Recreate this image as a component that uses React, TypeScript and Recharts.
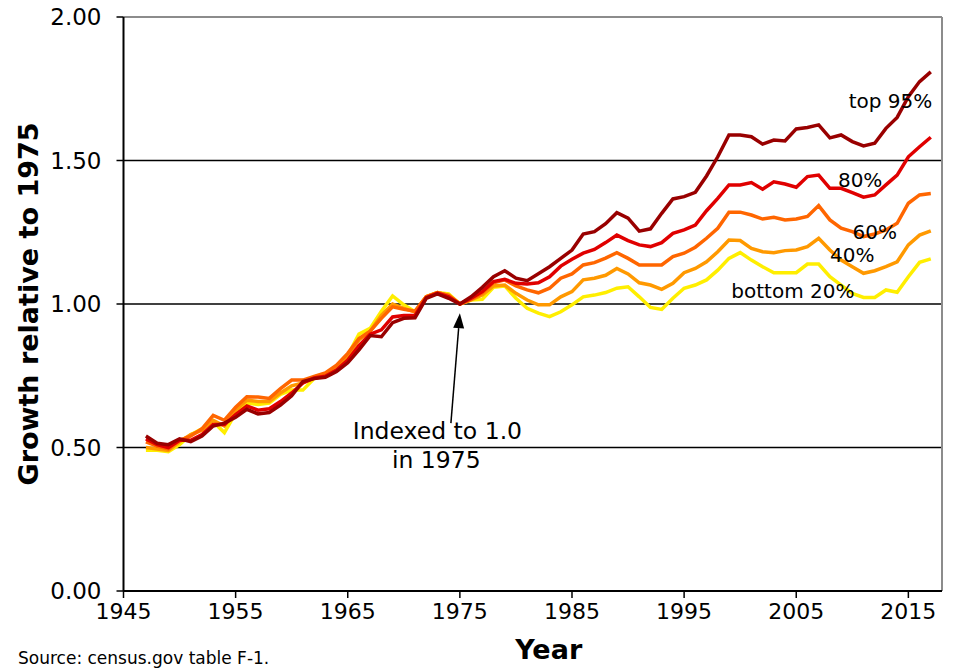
import React from 'react';
import { LineChart, Line, XAxis, YAxis, CartesianGrid, ReferenceLine, ReferenceDot } from 'recharts';

const FONT = '"DejaVu Sans", Verdana, sans-serif';

// years 1947 .. 2017
const years = Array.from({ length: 71 }, (_, i) => 1947 + i);

const top95 = [
  0.54, 0.515, 0.51, 0.53, 0.52, 0.54, 0.575, 0.585, 0.605, 0.633,
  0.617, 0.622, 0.648, 0.68, 0.73, 0.74, 0.745, 0.765, 0.795, 0.84,
  0.89, 0.886, 0.935, 0.95, 0.952, 1.02, 1.035, 1.02, 1.0, 1.025,
  1.058, 1.095, 1.116, 1.09, 1.081, 1.105, 1.13, 1.159, 1.188, 1.244,
  1.252, 1.28, 1.318, 1.299, 1.254, 1.262, 1.316, 1.366, 1.374, 1.389,
  1.446, 1.513, 1.589, 1.589, 1.583, 1.557, 1.571, 1.568, 1.61, 1.615,
  1.624, 1.579, 1.589, 1.566, 1.551, 1.56, 1.612, 1.65, 1.722, 1.775,
  1.809,
];
const p80 = [
  0.53, 0.51, 0.5, 0.525, 0.525, 0.545, 0.58, 0.58, 0.615, 0.645,
  0.63, 0.635, 0.66, 0.69, 0.725, 0.742, 0.748, 0.77, 0.805, 0.855,
  0.895, 0.91, 0.955, 0.96, 0.96, 1.022, 1.038, 1.025, 1.0, 1.02,
  1.043, 1.078, 1.086, 1.072, 1.07, 1.074, 1.095, 1.132, 1.156, 1.177,
  1.19, 1.214, 1.24, 1.221, 1.206, 1.2, 1.214, 1.246, 1.258, 1.275,
  1.325, 1.368, 1.415, 1.415, 1.423, 1.4, 1.426, 1.418, 1.407, 1.444,
  1.449, 1.403, 1.403, 1.388, 1.372, 1.38, 1.415, 1.449, 1.513, 1.548,
  1.581,
];
const p60 = [
  0.52, 0.505, 0.495, 0.525, 0.54, 0.565, 0.612, 0.595, 0.64, 0.677,
  0.676, 0.671, 0.705, 0.735, 0.735, 0.748, 0.76, 0.787, 0.828, 0.88,
  0.905, 0.95, 0.99, 0.982, 0.975, 1.025, 1.04, 1.03, 1.0, 1.016,
  1.039, 1.074, 1.084, 1.063, 1.049, 1.039, 1.055, 1.09, 1.105, 1.136,
  1.144, 1.16, 1.179, 1.159, 1.136, 1.136, 1.136, 1.165, 1.177, 1.198,
  1.229, 1.264, 1.32, 1.32, 1.31, 1.296, 1.302, 1.293, 1.296, 1.305,
  1.343, 1.293, 1.264, 1.252, 1.235, 1.244, 1.258, 1.281, 1.351, 1.38,
  1.385,
];
const p40 = [
  0.5, 0.495, 0.49, 0.52, 0.545, 0.56, 0.595, 0.575, 0.63, 0.665,
  0.66, 0.66, 0.69, 0.715, 0.725, 0.745, 0.755, 0.78, 0.82, 0.875,
  0.905, 0.96, 1.0, 0.985, 0.972, 1.025, 1.04, 1.03, 1.0, 1.014,
  1.031, 1.063, 1.066, 1.037, 1.014, 0.997, 0.997, 1.025, 1.043, 1.084,
  1.09, 1.1, 1.124, 1.105, 1.074, 1.066, 1.051, 1.072, 1.109, 1.124,
  1.147, 1.182, 1.223, 1.221, 1.194, 1.182, 1.179, 1.186, 1.188, 1.2,
  1.229, 1.188, 1.153, 1.13, 1.107, 1.116, 1.13, 1.147, 1.206, 1.24,
  1.255,
];
const p20 = [
  0.49, 0.49, 0.485, 0.51, 0.545, 0.565, 0.59, 0.552, 0.62, 0.655,
  0.65, 0.655, 0.685, 0.7, 0.7, 0.74, 0.755, 0.78, 0.82, 0.895,
  0.915, 0.975, 1.028, 0.997, 0.973, 1.025, 1.04, 1.035, 1.0, 1.014,
  1.016, 1.058, 1.063, 1.02, 0.985, 0.968, 0.956, 0.973, 0.997, 1.025,
  1.031, 1.04, 1.055, 1.06, 1.025, 0.988, 0.981, 1.02, 1.055, 1.066,
  1.084, 1.118, 1.159, 1.179, 1.153, 1.13, 1.109, 1.109, 1.109, 1.139,
  1.139, 1.095, 1.066, 1.037, 1.023, 1.023, 1.049, 1.041, 1.095, 1.145,
  1.157,
];

const xTicks = [1945, 1955, 1965, 1975, 1985, 1995, 2005, 2015];
const yTicks = [0, 0.5, 1, 1.5, 2];
const gridValues = [0.5, 1, 1.5];

// series labels placed in data coordinates
const seriesLabels = [
  { text: 'top 95%', x: 2013.4, y: 1.707 },
  { text: '80%', x: 2010.7, y: 1.432 },
  { text: '60%', x: 2012.0, y: 1.251 },
  { text: '40%', x: 2010.0, y: 1.171 },
  { text: 'bottom 20%', x: 2004.7, y: 1.045 },
];

const data = years.map((year, i) => ({
  year,
  top95: top95[i],
  p80: p80[i],
  p60: p60[i],
  p40: p40[i],
  p20: p20[i],
}));

const textAt = (label: string, size: number) => (p: any) => (
  <text x={p.cx} y={p.cy} textAnchor="middle" dominantBaseline="central"
    fontFamily={FONT} fontSize={size} fill="#000">{label}</text>
);

const Arrow = (p: any) => {
  const { x1, y1, x2, y2 } = p;
  const ang = Math.atan2(y2 - y1, x2 - x1);
  const len = 15, half = 5.5;
  const bx = x2 - len * Math.cos(ang), by = y2 - len * Math.sin(ang);
  const nx = -Math.sin(ang) * half, ny = Math.cos(ang) * half;
  return (
    <g>
      <line x1={x1} y1={y1} x2={bx} y2={by} stroke="#000" strokeWidth={1.5} />
      <polygon points={`${x2},${y2} ${bx + nx},${by + ny} ${bx - nx},${by - ny}`} fill="#000" />
    </g>
  );
};

const YTitle = (p: any) => {
  const vb = p.viewBox || {};
  const cx = (vb.x || 0) + 28;
  const cy = (vb.y || 17) + (vb.height || 574) / 2;
  return (
    <text x={cx} y={cy} transform={`rotate(-90, ${cx}, ${cy})`} textAnchor="middle"
      dominantBaseline="central" fontFamily={FONT} fontSize={27} fontWeight="bold" fill="#000">
      Growth relative to 1975
    </text>
  );
};

const XTitle = (p: any) => {
  const vb = p.viewBox || {};
  const cx = (vb.x || 123.5) + (vb.width || 818.5) / 2 + 16;
  const cy = (vb.y || 591) + 68;
  return (
    <text x={cx} y={cy} textAnchor="middle" fontFamily={FONT} fontSize={27}
      fontWeight="bold" fill="#000">Year</text>
  );
};

const App = () => {
  return (
    <div style={{ position: 'absolute', left: 0, top: 0, width: 957, height: 668, overflow: 'hidden', background: '#fff' }}>
      <LineChart width={957} height={668} data={data}
        margin={{ top: 17, right: 15, bottom: 0, left: 0 }}>
        <CartesianGrid vertical={false} horizontalValues={gridValues} stroke="#000" strokeWidth={1.5} />
        <XAxis dataKey="year" type="number" domain={[1945, 2018]} ticks={xTicks}
          height={77} tickSize={7} tickMargin={5} interval={0}
          axisLine={{ stroke: '#000', strokeWidth: 2 }} tickLine={{ stroke: '#000', strokeWidth: 1.5 }}
          tick={{ fill: '#000', fontSize: 22, fontFamily: FONT }}
          label={{ content: XTitle }} />
        <YAxis type="number" domain={[0, 2]} ticks={yTicks} width={123.5}
          tickFormatter={(v: number) => v.toFixed(2)} tickSize={7} tickMargin={15}
          axisLine={{ stroke: '#000', strokeWidth: 2 }} tickLine={{ stroke: '#000', strokeWidth: 1.5 }}
          tick={{ fill: '#000', fontSize: 23, fontFamily: FONT }}
          label={{ content: YTitle }} />
        <ReferenceLine y={2} stroke="#8c8c8c" strokeWidth={2} />
        <ReferenceLine x={2018} stroke="#8c8c8c" strokeWidth={2} />
        <Line type="linear" dataKey="p20" stroke="#FFEE00" strokeWidth={3.5} dot={false} isAnimationActive={false} />
        <Line type="linear" dataKey="p40" stroke="#FF9900" strokeWidth={3.5} dot={false} isAnimationActive={false} />
        <Line type="linear" dataKey="p60" stroke="#FF6600" strokeWidth={3.5} dot={false} isAnimationActive={false} />
        <Line type="linear" dataKey="p80" stroke="#E00000" strokeWidth={3.5} dot={false} isAnimationActive={false} />
        <Line type="linear" dataKey="top95" stroke="#990000" strokeWidth={3.5} dot={false} isAnimationActive={false} />
        {seriesLabels.map((l) => (
          <ReferenceDot key={l.text} x={l.x} y={l.y} r={0} shape={textAt(l.text, 20)} />
        ))}
        <ReferenceDot x={1973.0} y={0.557} r={0} shape={textAt('Indexed to 1.0', 23.5)} />
        <ReferenceDot x={1972.9} y={0.456} r={0} shape={textAt('in 1975', 23.5)} />
        <ReferenceLine segment={[{ x: 1974.2, y: 0.585 }, { x: 1975, y: 0.968 }]} shape={Arrow} />
      </LineChart>
      <div style={{ position: 'absolute', left: 18, top: 648, fontFamily: FONT, fontSize: 17, lineHeight: '20px', color: '#000', whiteSpace: 'nowrap' }}>
        Source: census.gov table F-1.
      </div>
    </div>
  );
};

export default App;
